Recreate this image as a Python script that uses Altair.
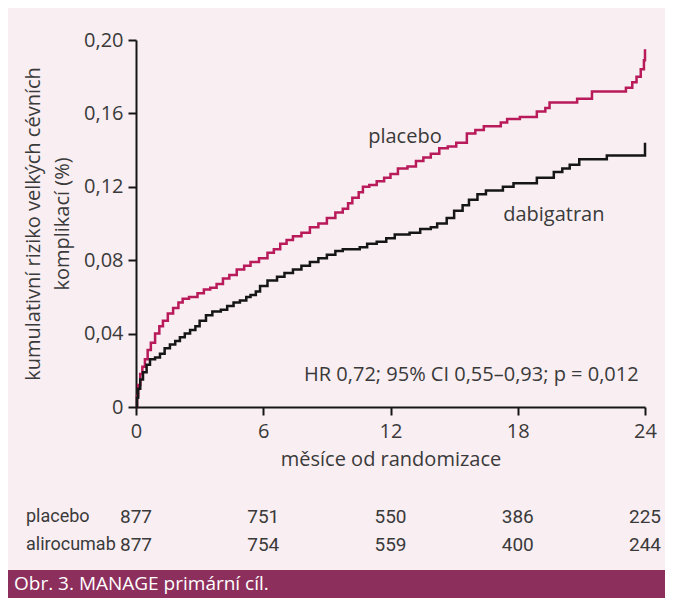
import altair as alt
import pandas as pd

# ---- data ----
months_placebo = [0, 0.05, 0.1, 0.2, 0.3, 0.42, 0.55, 0.7, 0.9, 1.1, 1.27, 1.5, 1.75, 2.0, 2.2, 2.5,
                  2.9, 3.2, 3.5, 3.8, 4.1, 4.4, 4.75, 5.1, 5.4, 5.8, 6.2, 6.5, 6.8, 7.1, 7.4, 7.8,
                  8.2, 8.6, 9.0, 9.4, 9.75, 10.0, 10.2, 10.5, 10.7, 11.0, 11.35, 11.7, 12.0, 12.35,
                  12.8, 13.2, 13.55, 13.9, 14.3, 14.7, 15.1, 15.6, 16.0, 16.4, 17.2, 17.5, 18.1,
                  18.9, 19.3, 19.5, 20.8, 21.5, 23.1, 23.4, 23.6, 23.8, 23.95, 24.0]
risk_placebo = [0, 0.006, 0.012, 0.018, 0.022, 0.026, 0.031, 0.035, 0.040, 0.044, 0.047, 0.051,
                0.054, 0.057, 0.059, 0.060, 0.062, 0.064, 0.065, 0.067, 0.070, 0.072, 0.075,
                0.077, 0.079, 0.081, 0.084, 0.086, 0.089, 0.091, 0.093, 0.095, 0.098, 0.100,
                0.103, 0.106, 0.108, 0.111, 0.114, 0.117, 0.120, 0.121, 0.123, 0.125, 0.127,
                0.130, 0.131, 0.134, 0.136, 0.138, 0.141, 0.142, 0.144, 0.149, 0.151, 0.153,
                0.155, 0.157, 0.158, 0.161, 0.163, 0.166, 0.168, 0.172, 0.174, 0.177, 0.180,
                0.184, 0.189, 0.195]

months_dabigatran = [0, 0.05, 0.1, 0.2, 0.33, 0.5, 0.66, 0.9, 1.13, 1.35, 1.6, 1.85, 2.07, 2.3,
                     2.55, 2.8, 3.0, 3.3, 3.6, 4.0, 4.3, 4.6, 4.9, 5.2, 5.4, 5.65, 5.85, 6.2, 6.65,
                     7.0, 7.4, 7.8, 8.2, 8.6, 9.0, 9.4, 9.75, 10.55, 10.9, 11.35, 11.8, 12.2, 12.9,
                     13.4, 13.9, 14.2, 14.65, 15.0, 15.4, 15.7, 16.1, 16.5, 17.3, 17.8, 18.9, 19.7,
                     20.1, 20.45, 20.9, 22.2, 24.0]
risk_dabigatran = [0, 0.005, 0.010, 0.015, 0.019, 0.023, 0.026, 0.027, 0.029, 0.032, 0.034,
                   0.036, 0.038, 0.040, 0.042, 0.044, 0.047, 0.050, 0.052, 0.053, 0.055, 0.057,
                   0.058, 0.060, 0.061, 0.063, 0.066, 0.069, 0.071, 0.073, 0.075, 0.077, 0.079,
                   0.081, 0.083, 0.085, 0.086, 0.087, 0.089, 0.090, 0.092, 0.094, 0.095, 0.097,
                   0.098, 0.100, 0.103, 0.107, 0.110, 0.113, 0.116, 0.118, 0.120, 0.122, 0.125,
                   0.128, 0.130, 0.132, 0.135, 0.137, 0.144]

series_names = ["placebo", "dabigatran"]
x_ticks = [0, 6, 12, 18, 24]
y_ticks = [0, 0.04, 0.08, 0.12, 0.16, 0.20]

table_months = [0, 6, 12, 18, 24]
at_risk_placebo = [877, 751, 550, 386, 225]
at_risk_alirocumab = [877, 754, 559, 400, 244]
table_rows = ["placebo", "alirocumab"]

hr_text = "HR 0,72; 95% CI 0,55–0,93; p = 0,012"
caption = "Obr. 3. MANAGE primární cíl."
x_title = "měsíce od randomizace"
y_title = ["kumulativní riziko velkých cévních", "komplikací (%)"]

# ---- styling ----
FONT = "Open Sans"
NARROW = "Roboto"
BG = "#f9eef2"
BAND = "#8d2f5c"
PINK = "#b81a5a"
BLACK = "#161616"
TEXT = "#3a3a3a"

W, H = 509, 367

df = pd.concat([
    pd.DataFrame({"month": months_placebo, "risk": risk_placebo, "series": series_names[0]}),
    pd.DataFrame({"month": months_dabigatran, "risk": risk_dabigatran, "series": series_names[1]}),
])

x_enc = alt.X("month:Q", scale=alt.Scale(domain=[0, 24], nice=False, zero=True),
              axis=alt.Axis(values=x_ticks, title=x_title, grid=False, labelFlush=False,
                            labelFont=FONT, labelFontSize=20, labelColor=TEXT, labelPadding=6,
                            tickSize=8, tickWidth=2, tickColor=BLACK, domainColor=BLACK,
                            domainWidth=2, titleFont=FONT, titleFontSize=20,
                            titleFontWeight="normal", titleColor=TEXT, titlePadding=8))
y_enc = alt.Y("risk:Q", scale=alt.Scale(domain=[0, 0.2], nice=False),
              axis=alt.Axis(values=y_ticks, title=y_title, grid=False,
                            labelExpr="datum.value == 0 ? '0' : replace(format(datum.value, '.2f'), '.', ',')",
                            labelFont=FONT, labelFontSize=20, labelColor=TEXT, labelPadding=5,
                            tickSize=8, tickWidth=2, tickColor=BLACK, domainColor=BLACK,
                            domainWidth=2, titleFont=FONT, titleFontSize=20,
                            titleFontWeight="normal", titleColor=TEXT, titleAngle=270,
                            titleAlign="center", titleBaseline="middle", titleLineHeight=29,
                            titleX=-103, titleY=H / 2))

lines = alt.Chart(df).mark_line(interpolate="step-after", strokeWidth=2.5, strokeJoin="miter").encode(
    x=x_enc, y=y_enc,
    color=alt.Color("series:N", scale=alt.Scale(domain=series_names, range=[PINK, BLACK]), legend=None),
)

label_placebo = alt.Chart().mark_text(text="placebo", font=FONT, fontSize=20, color=TEXT,
                                      align="center", baseline="middle").encode(
    x=alt.datum(12.68), y=alt.datum(0.147))
label_dabi = alt.Chart().mark_text(text="dabigatran", font=FONT, fontSize=20, color=TEXT,
                                   align="center", baseline="middle").encode(
    x=alt.datum(19.7), y=alt.datum(0.1046))
label_hr = alt.Chart().mark_text(text=hr_text, font=FONT, fontSize=20, color=TEXT,
                                 align="right", baseline="middle").encode(
    x=alt.datum(23.7), y=alt.datum(0.0174))

tbl_p = pd.DataFrame({"month": table_months, "n": at_risk_placebo})
tbl_a = pd.DataFrame({"month": table_months, "n": at_risk_alirocumab})
row_p = alt.Chart(tbl_p).mark_text(font=NARROW, fontSize=19, color=TEXT, align="center",
                                   baseline="middle").encode(
    x="month:Q", y=alt.value(477), text="n:Q")
row_a = alt.Chart(tbl_a).mark_text(font=NARROW, fontSize=19, color=TEXT, align="center",
                                   baseline="middle").encode(
    x="month:Q", y=alt.value(505), text="n:Q")
name_p = alt.Chart().mark_text(text=table_rows[0], font=NARROW, fontSize=18, color=TEXT,
                               align="left", baseline="middle").encode(
    x=alt.value(-110), y=alt.value(477))
name_a = alt.Chart().mark_text(text=table_rows[1], font=NARROW, fontSize=18, color=TEXT,
                               align="left", baseline="middle").encode(
    x=alt.value(-110), y=alt.value(505))

band = alt.Chart().mark_rect(color=BAND).encode(
    x=alt.value(-128), x2=alt.value(529), y=alt.value(530), y2=alt.value(558))
band_text = alt.Chart().mark_text(text=caption, font=FONT, fontSize=19, color="white",
                                  align="left", baseline="middle").encode(
    x=alt.value(-122), y=alt.value(544))

chart = alt.layer(
    lines, label_placebo, label_dabi, label_hr, row_p, row_a, name_p, name_a, band, band_text
).properties(
    width=W, height=H,
    autosize=alt.AutoSizeParams(type="none"),
    padding={"left": 128, "top": 32, "right": 20, "bottom": 191},
    background=BG,
).configure_view(stroke=None)

chart.save("out.html", embed_options={"renderer": "svg", "actions": False})
